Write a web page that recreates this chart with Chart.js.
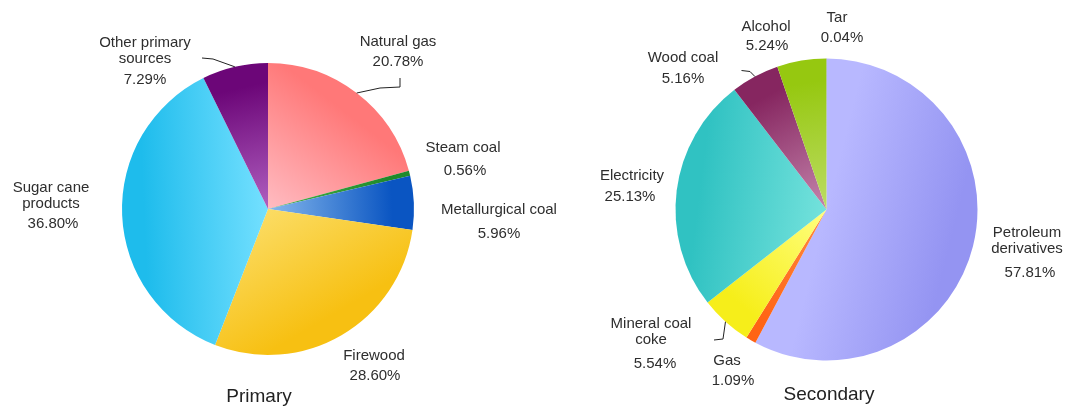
<!DOCTYPE html>
<html>
<head>
<meta charset="utf-8">
<script src="https://cdn.jsdelivr.net/npm/chart.js@4.4.0/dist/chart.umd.min.js"></script>
<style>
  body { margin: 0; background: #fff; }
  #wrap { position: relative; width: 1066px; height: 408px; overflow: hidden; }
  canvas { position: absolute; top: 0; }
  #primary-chart { left: 0; }
  #secondary-chart { left: 533px; }
</style>
</head>
<body>
<div id="wrap">
  <canvas id="primary-chart" width="600" height="408"></canvas>
  <canvas id="secondary-chart" width="533" height="408"></canvas>
</div>
<script>
// Primary energy sources, share in %
const primaryLabels = ['Natural gas', 'Steam coal', 'Metallurgical coal', 'Firewood', 'Sugar cane\nproducts', 'Other primary\nsources'];
const primaryValues = [20.78, 0.56, 5.96, 28.60, 36.80, 7.29];

// Secondary energy sources, share in %
const secondaryLabels = ['Petroleum\nderivatives', 'Gas', 'Mineral coal\ncoke', 'Electricity', 'Wood coal', 'Alcohol', 'Tar'];
const secondaryValues = [57.81, 1.09, 5.54, 25.13, 5.16, 5.24, 0.04];

// slice shading: rim colour -> colour near the centre
const primaryOuter = ['#ff7878', '#1f8a2a', '#0a55c2', '#f7c012', '#1ebcec', '#6c0678'];
const primaryInner = ['#ffbcc2', '#4ab04a', '#86b8ec', '#fbdc64', '#74e0ff', '#b060c0'];
const secondaryOuter = ['#9494f2', '#ff6414', '#f6ee1a', '#30c2c2', '#862660', '#96c810', '#70a020'];
const secondaryInner = ['#b8b8ff', '#ff8a40', '#ffff80', '#74e2dc', '#c484ac', '#bcdc64', '#90c040'];

const FONT = '"Liberation Sans", Arial, sans-serif';

// Gradient per slice, running from the rim (at the slice's mid angle) to the centre
function shadedFill(values, outer, inner, radius) {
    const total = values.reduce((a, b) => a + b, 0);
    return (context) => {
        const chart = context.chart;
        const area = chart.chartArea;
        const i = context.dataIndex;
        if (!area || i === undefined) return outer[0];
        const cx = (area.left + area.right) / 2;
        const cy = (area.top + area.bottom) / 2;
        let before = 0;
        for (let k = 0; k < i; k++) before += values[k];
        const mid = -Math.PI / 2 + 2 * Math.PI * (before + values[i] / 2) / total;
        const g = chart.ctx.createLinearGradient(
            cx + Math.cos(mid) * radius, cy + Math.sin(mid) * radius, cx, cy);
        g.addColorStop(0, outer[i]);
        g.addColorStop(0.15, outer[i]);
        g.addColorStop(1, inner[i]);
        return g;
    };
}

// Draws the outside labels, leader lines and the caption under each pie
const pieNotes = {
    id: 'pieNotes',
    afterDatasetsDraw(chart, args, opts) {
        const ctx = chart.ctx;
        const area = chart.chartArea;
        const cx = (area.left + area.right) / 2;
        const cy = (area.top + area.bottom) / 2;
        const meta = chart.getDatasetMeta(0);
        const values = chart.data.datasets[0].data;

        ctx.save();
        ctx.fillStyle = '#2e2e2e';
        ctx.font = '15px ' + FONT;
        ctx.textAlign = 'center';
        ctx.textBaseline = 'middle';
        chart.data.labels.forEach((label, i) => {
            const [dx, dy, pdx, pdy] = opts.spots[i];
            label.split('\n').forEach((line, j) => ctx.fillText(line, cx + dx, cy + dy + j * 16));
            ctx.fillText(values[i].toFixed(2) + '%', cx + pdx, cy + pdy);
        });

        ctx.strokeStyle = '#222';
        ctx.lineWidth = 1;
        opts.leaders.forEach(({ index, points }) => {
            const arc = meta.data[index];
            const mid = (arc.startAngle + arc.endAngle) / 2;
            ctx.beginPath();
            ctx.moveTo(arc.x + Math.cos(mid) * arc.outerRadius, arc.y + Math.sin(mid) * arc.outerRadius);
            points.forEach(([px, py]) => ctx.lineTo(cx + px, cy + py));
            ctx.stroke();
        });

        ctx.fillStyle = '#222';
        ctx.font = '19px ' + FONT;
        ctx.fillText(opts.title, cx + opts.titleAt[0], cy + opts.titleAt[1]);
        ctx.restore();
    }
};

const makePie = (canvasId, labels, values, outer, inner, radius, padding, notes) => {
    return new Chart(document.getElementById(canvasId), {
        type: 'pie',
        data: {
            labels: labels,
            datasets: [{
                data: values,
                backgroundColor: shadedFill(values, outer, inner, radius),
                borderWidth: 0
            }]
        },
        options: {
            responsive: false,
            animation: false,
            radius: radius,
            layout: { padding: padding },
            plugins: {
                legend: { display: false },
                tooltip: { enabled: false },
                pieNotes: notes
            }
        },
        plugins: [pieNotes]
    });
};

makePie('primary-chart', primaryLabels, primaryValues, primaryOuter, primaryInner, 146,
    { left: 0, right: 64, top: 10, bottom: 0 },
    {
        title: 'Primary',
        titleAt: [-9, 188],
        // [name dx, name dy, percent dx, percent dy] from the pie centre
        spots: [
            [130, -167, 130, -147],
            [195, -61, 197, -38],
            [231, 1, 231, 25],
            [106, 147, 107, 167],
            [-217, -21, -215, 15],
            [-123, -166, -123, -129]
        ],
        leaders: [
            { index: 0, points: [[112, -121], [132, -122], [132, -131]] },
            { index: 5, points: [[-55, -150], [-66, -151]] }
        ]
    });

makePie('secondary-chart', secondaryLabels, secondaryValues, secondaryOuter, secondaryInner, 151,
    { left: 54, right: 0, top: 11, bottom: 0 },
    {
        title: 'Secondary',
        titleAt: [2.5, 185.5],
        spots: [
            [200.5, 23.5, 203.5, 63.5],
            [-99.5, 151.5, -93.5, 171.5],
            [-175.5, 114.5, -171.5, 154.5],
            [-194.5, -33.5, -196.5, -12.5],
            [-143.5, -151.5, -143.5, -130.5],
            [-60.5, -182.5, -59.5, -163.5],
            [10.5, -191.5, 15.5, -171.5]
        ],
        leaders: [
            { index: 4, points: [[-76.5, -138], [-85, -139]] },
            { index: 2, points: [[-103.5, 129.5], [-112.5, 130.5]] }
        ]
    });
</script>
</body>
</html>
